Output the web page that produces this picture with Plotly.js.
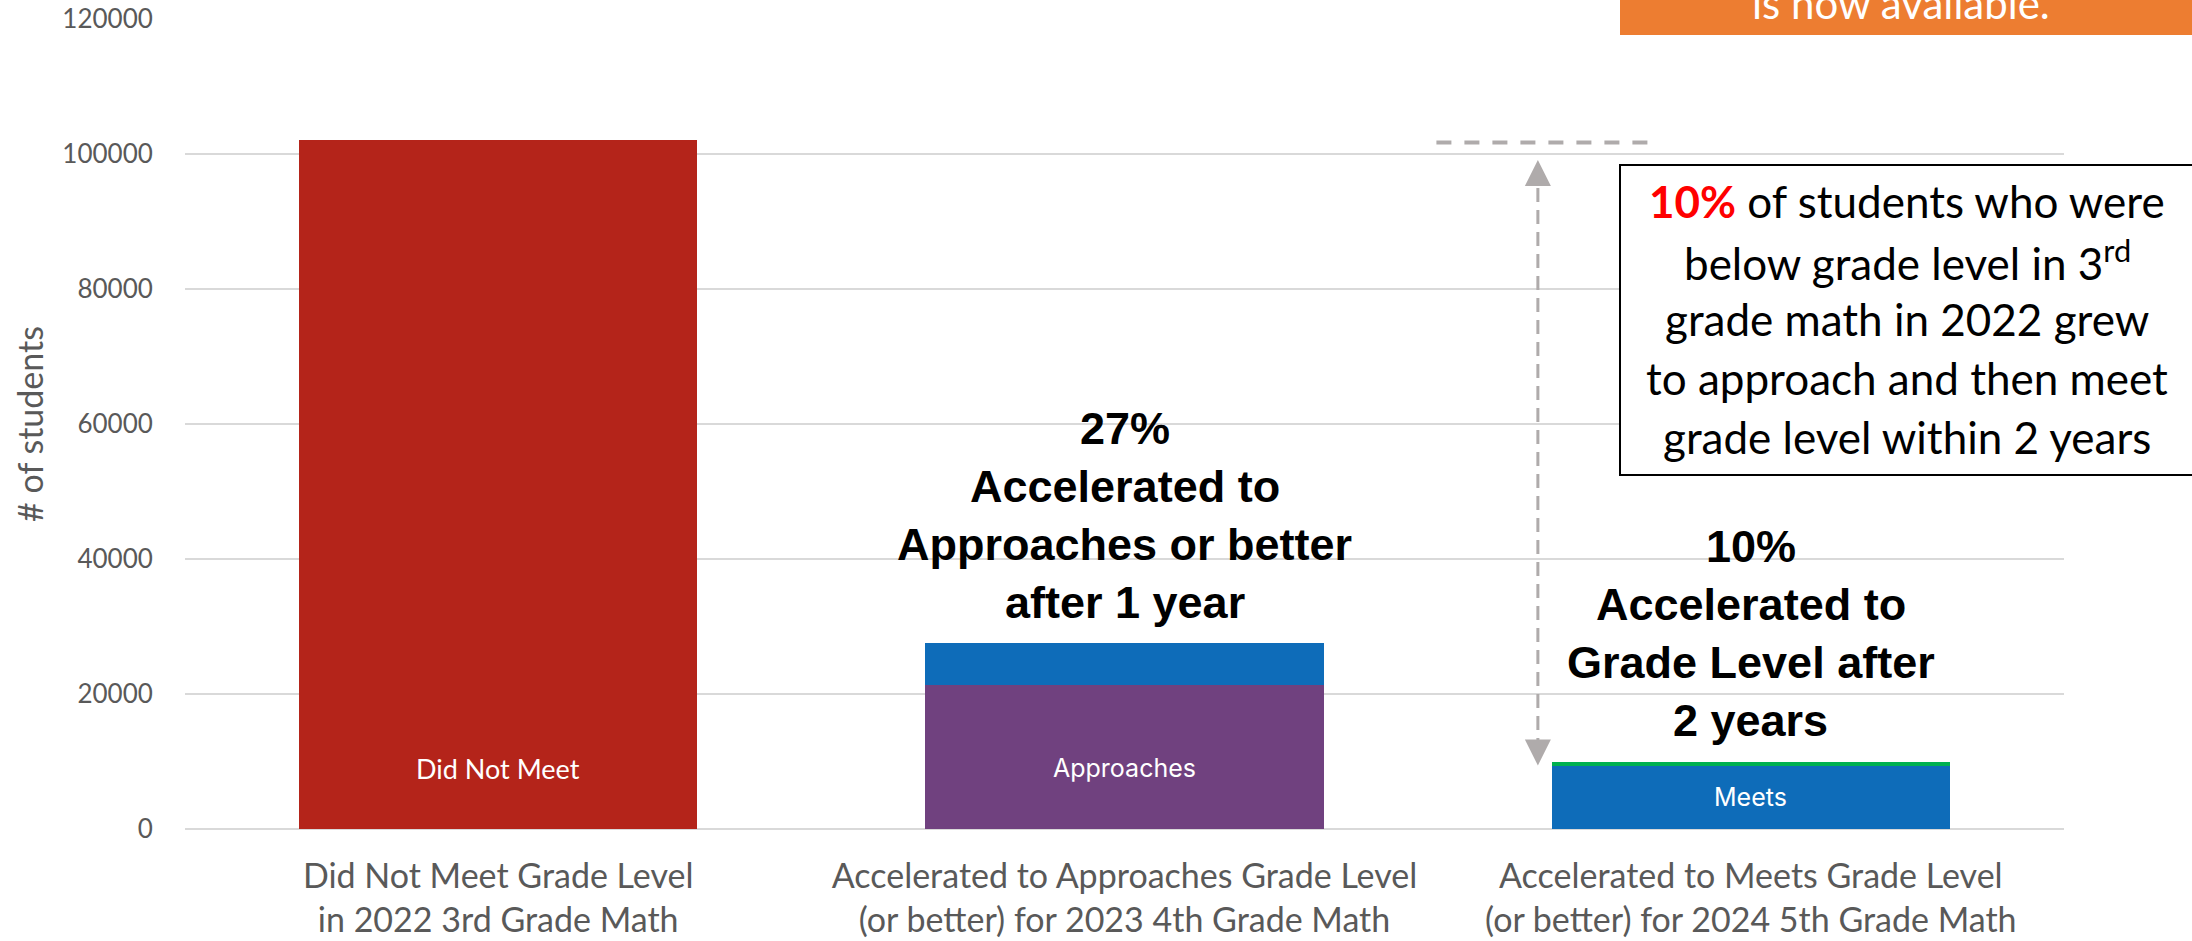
<!DOCTYPE html>
<html>
<head>
<meta charset="utf-8">
<script src="https://cdn.plot.ly/plotly-3.0.1.min.js"></script>
<style>
  html, body { margin: 0; padding: 0; background: #ffffff; }
  #chart { width: 2192px; height: 941px; }
</style>
</head>
<body>
<div id="chart"></div>
<script>
// ---- Data ----
const categories = [
  "Did Not Meet Grade Level<br>in 2022 3rd Grade Math",
  "Accelerated to Approaches Grade Level<br>(or better) for 2023 4th Grade Math",
  "Accelerated to Meets Grade Level<br>(or better) for 2024 5th Grade Math"
];
const didNotMeet = [102100, 0, 0];
const approaches = [0, 21300, 0];
const meets      = [0, 6200, 9400];
const masters    = [0, 0, 500];
const yTickValues = [0, 20000, 40000, 60000, 80000, 100000, 120000];
const seriesNames = ["Did Not Meet", "Approaches", "Meets", "Masters"];
const barLabels = [
  {cat: 0, series: "Did Not Meet"},
  {cat: 1, series: "Approaches"},
  {cat: 2, series: "Meets"}
];
const oneYearLines = ["27%", "Accelerated to", "Approaches or better", "after 1 year"];
const twoYearLines = ["10%", "Accelerated to", "Grade Level after", "2 years"];
const boxLines = [
  "<span style='color:#FF0000'><b>10%</b></span> of students who were",
  "below grade level in 3<sup>rd</sup>",
  "grade math in 2022 grew",
  "to approach and then meet",
  "grade level within 2 years"
];
const bannerText = "is now available.";

// ---- Styles ----
const colors = {
  "Did Not Meet": "#B4241A",
  "Approaches": "#70417F",
  "Meets": "#0E6CB9",
  "Masters": "#00B050"
};
const seriesValues = {
  "Did Not Meet": didNotMeet,
  "Approaches": approaches,
  "Meets": meets,
  "Masters": masters
};

const traces = seriesNames.map(name => ({
  type: "bar",
  name: name,
  x: categories,
  y: seriesValues[name],
  marker: { color: colors[name], line: { width: 0 } },
  hoverinfo: "x+y+name",
  showlegend: false
}));

// geometry helpers (plot area in pixels)
const W = 2192, H = 941;
const M = { l: 185, r: 128, t: 19, b: 112 };
const plotW = W - M.l - M.r, plotH = H - M.t - M.b;
const px2paperX = px => (px - M.l) / plotW;
const px2paperY = py => (H - M.b - py) / plotH;

const annotations = [];

// labels inside bars
barLabels.forEach(b => {
  const v = seriesValues[b.series][b.cat];
  annotations.push({
    x: categories[b.cat], y: Math.min(v / 2, 9000), xref: "x", yref: "y",
    text: b.series, showarrow: false, yanchor: "middle",
    font: { family: b.series === "Did Not Meet" ? "Lato" : "Inter", size: b.series === "Did Not Meet" ? 27 : 25, color: "#FFFFFF" }
  });
});

// bold annotations above bars 2 and 3
function addLines(lines, xcat, yMid, spacing, fontSpec) {
  const n = lines.length;
  lines.forEach((t, i) => {
    annotations.push({
      x: categories[xcat], xref: "x", y: yMid, yref: "y",
      yshift: ((n - 1) / 2 - i) * spacing,
      text: t, showarrow: false, yanchor: "middle", xanchor: "center",
      font: fontSpec
    });
  });
}
const boldFont = { family: "Liberation Sans", size: 45, color: "#000000", weight: "bold" };
addLines(oneYearLines.map(t => "<b>" + t + "</b>"), 1, 46400, 58, boldFont);
addLines(twoYearLines.map(t => "<b>" + t + "</b>"), 2, 29000, 58, boldFont);

// text in the bordered box
boxLines.forEach((t, i) => {
  annotations.push({
    x: px2paperX(1907), xref: "paper",
    y: px2paperY(201 + i * 59), yref: "paper",
    text: t, showarrow: false, xanchor: "center", yanchor: "middle",
    font: { family: "Lato", size: 44, color: "#000000" }
  });
});

// banner text (partly off the top of the page)
annotations.push({
  x: px2paperX(1901), xref: "paper",
  y: px2paperY(3), yref: "paper",
  text: bannerText, showarrow: false, xanchor: "center", yanchor: "middle",
  font: { family: "Lato", size: 42, color: "#FFFFFF" }
});

const arrowX = 1.66;              // between bar 2 and bar 3 (category index units)
const arrowTop = 99100;
const arrowBottom = 9400;
const grey = "#AFABAB";

const shapes = [
  // orange banner
  { type: "rect", xref: "paper", yref: "paper",
    x0: px2paperX(1620), x1: px2paperX(2200), y0: px2paperY(35), y1: px2paperY(-20),
    fillcolor: "#ED7D31", line: { width: 0 }, layer: "above" },
  // bordered text box
  { type: "rect", xref: "paper", yref: "paper",
    x0: px2paperX(1620), x1: px2paperX(2200), y0: px2paperY(475), y1: px2paperY(165),
    fillcolor: "#FFFFFF", line: { color: "#000000", width: 2 }, layer: "above" },
  // horizontal dashed reference line at the level of bar 1
  { type: "line", xref: "x", yref: "y",
    x0: 1.498, x1: 1.84, y0: 101700, y1: 101700,
    line: { color: grey, width: 4, dash: "15px,13px" }, layer: "above" },
  // vertical dashed arrow shaft
  { type: "line", xref: "x", yref: "y",
    x0: arrowX, x1: arrowX, y0: arrowBottom + 2000, y1: arrowTop - 2000,
    line: { color: grey, width: 3, dash: "14px,8px" }, layer: "above" },
  // arrowheads
  { type: "path", xref: "x", yref: "y", xsizemode: "pixel", ysizemode: "pixel",
    xanchor: arrowX, yanchor: arrowTop,
    path: "M0,0 L-13,-26 L13,-26 Z", fillcolor: grey, line: { width: 0 }, layer: "above" },
  { type: "path", xref: "x", yref: "y", xsizemode: "pixel", ysizemode: "pixel",
    xanchor: arrowX, yanchor: arrowBottom,
    path: "M0,0 L-13,26 L13,26 Z", fillcolor: grey, line: { width: 0 }, layer: "above" }
];

const layout = {
  width: W, height: H,
  margin: M,
  paper_bgcolor: "#FFFFFF",
  plot_bgcolor: "#FFFFFF",
  barmode: "stack",
  bargap: 0.364,
  showlegend: false,
  font: { family: "Lato", color: "#595959" },
  xaxis: {
    type: "category",
    showgrid: false,
    zeroline: false,
    showline: false,
    ticks: "outside", ticklen: 17, tickcolor: "rgba(0,0,0,0)",
    tickfont: { family: "Lato", size: 34, color: "#595959" },
    automargin: false
  },
  yaxis: {
    range: [0, 120000],
    tickvals: yTickValues,
    ticktext: yTickValues.map(v => String(v)),
    showgrid: true, gridcolor: "#D9D9D9", gridwidth: 2,
    zeroline: true, zerolinecolor: "#D9D9D9", zerolinewidth: 2,
    showline: false,
    ticks: "outside", ticklen: 26, tickcolor: "rgba(0,0,0,0)",
    tickfont: { family: "Lato", size: 26, color: "#595959" },
    title: { text: "# of students", font: { family: "Lato", size: 34, color: "#595959" }, standoff: 8 },
    automargin: false
  },
  annotations: annotations,
  shapes: shapes
};

Plotly.newPlot("chart", traces, layout, { displayModeBar: false, staticPlot: true });
</script>
</body>
</html>
